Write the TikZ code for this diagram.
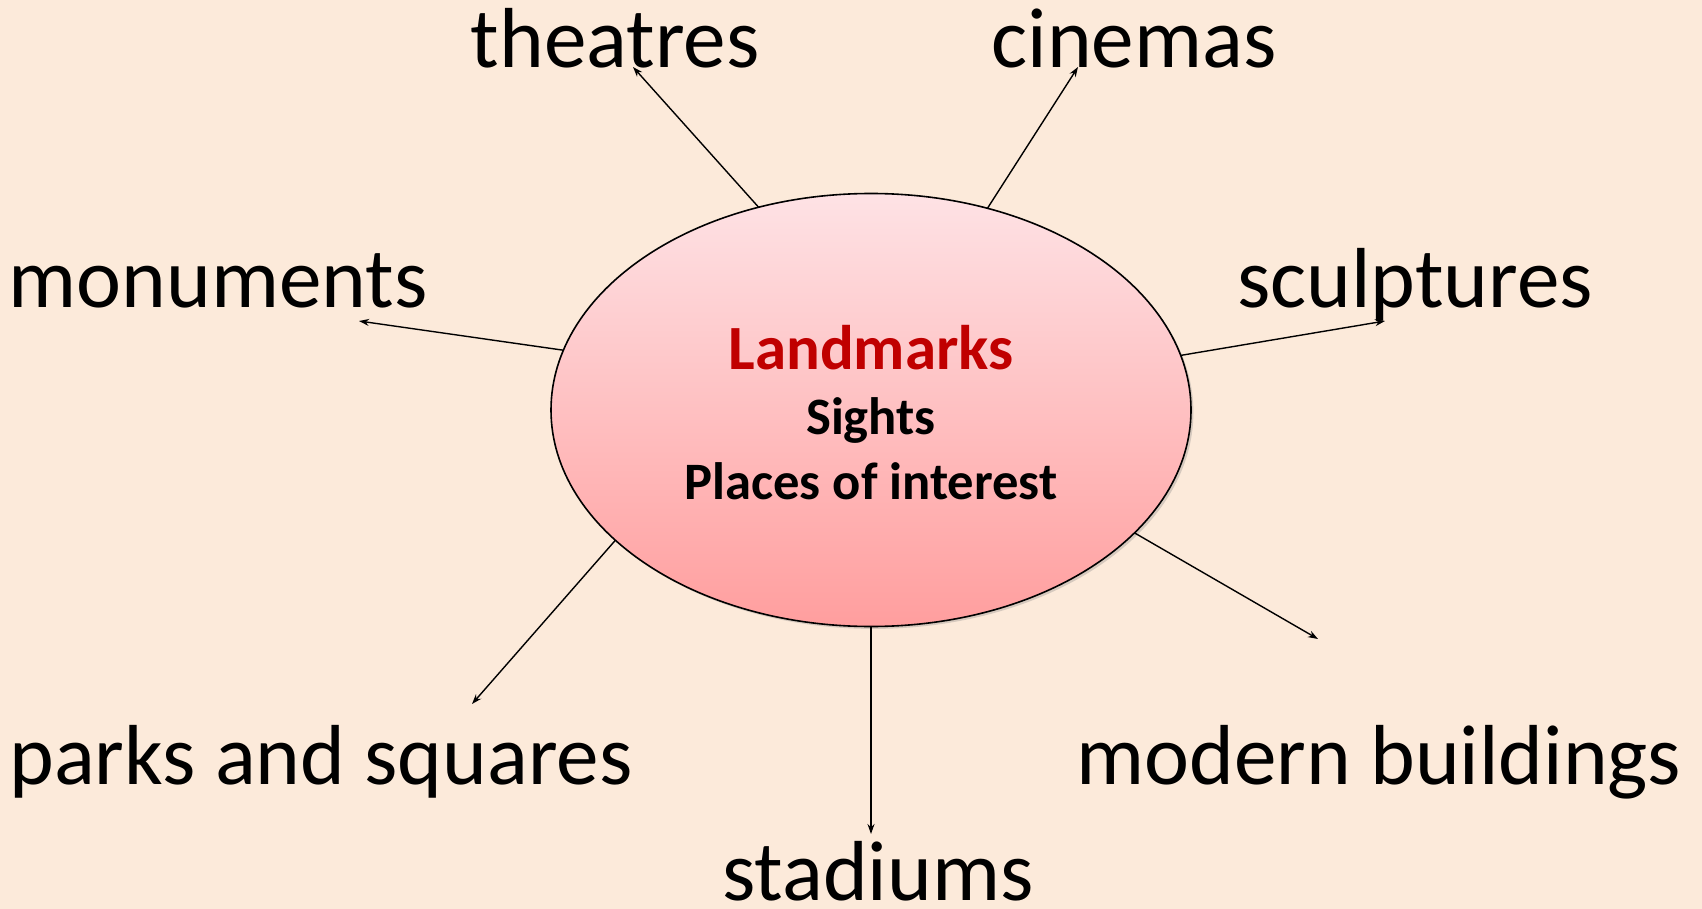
\documentclass[tikz,border=0pt]{standalone}
\usepackage{fontspec}
\setmainfont{Carlito}
\usetikzlibrary{arrows.meta,shapes.geometric,shadows}
\definecolor{bgpeach}{RGB}{252,234,218}
\definecolor{ovaltop}{RGB}{254,226,229}
\definecolor{ovalbot}{RGB}{255,158,158}
\definecolor{darkred}{RGB}{192,0,0}

\tikzset{
  item/.style={anchor=base,inner sep=0pt,font=\fontsize{42.6}{50}\selectfont},
  core/.style={anchor=base,inner sep=0pt,font=\bfseries\fontsize{26.3}{30}\selectfont},
  link/.style={line width=0.7pt,-{Stealth[length=5pt,width=3.5pt]}},
}

\begin{document}
\begin{tikzpicture}[x=0.5pt,y=-0.5pt]
\fill[bgpeach] (0,0) rectangle (1702,909);
\useasboundingbox (0,0) rectangle (1702,909);

% central oval
\node[draw,ellipse,line width=0.8pt,minimum width=320pt,minimum height=216.5pt,
  inner sep=0pt,outer sep=0pt,top color=ovaltop,bottom color=ovalbot,
  drop shadow={shadow xshift=1.2pt,shadow yshift=-1.2pt,opacity=0.3}] (land) at (871,410) {};
\node[core,text=darkred,font=\bfseries\fontsize{31.5}{36}\selectfont] (ttl) at (871,369) {Landmarks};
\node[core] (sights) at (871,434) {Sights};
\node[core] (places) at (871,499) {Places of interest};

% the words round it
\node[item] (theatres) at (615,68) {theatres};
\node[item] (cinemas) at (1134,68) {cinemas};
\node[item] (monuments) at (218,307) {monuments};
\node[item] (sculptures) at (1415,307) {sculptures};
\node[item] (parks) at (321,784) {parks and squares};
\node[item] (modern) at (1379,784) {modern buildings};
\node[item] (stadiums) at (878,900) {stadiums};

% arrow tips
\coordinate (thtip) at (633,67);
\coordinate (citip) at (1078,67);
\coordinate (motip) at (359,321);
\coordinate (sctip) at (1385,321);
\coordinate (patip) at (472,704);
\coordinate (sttip) at (871,834);
\coordinate (mbtip) at (1318,639);

\draw[link] (land.119.2) -- (thtip);
\draw[link] (land.60.9) -- (citip);
\draw[link] (land.169.9) -- (motip);
\draw[link] (land.10.1) -- (sctip);
\draw[link] (land.207.8) -- (patip);
\draw[link] (land.270) -- (sttip);
\draw[link] (land.335.1) -- (mbtip);

\end{tikzpicture}
\end{document}
